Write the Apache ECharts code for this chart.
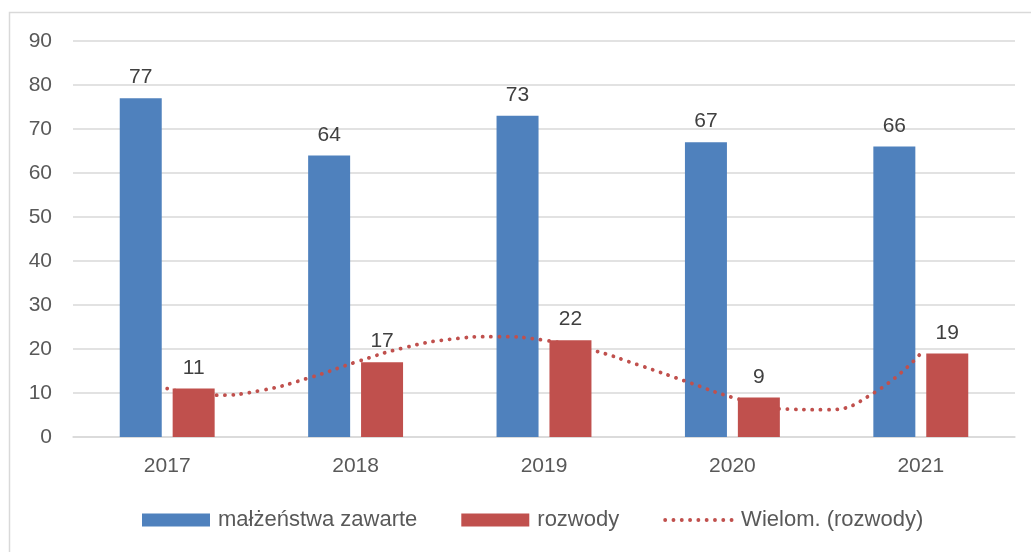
<!DOCTYPE html>
<html>
<head>
<meta charset="utf-8">
<script src="https://cdn.jsdelivr.net/npm/echarts@6/dist/echarts.min.js"></script>
<style>
  html, body { margin: 0; padding: 0; background: #fff; }
  #chart { width: 1031px; height: 552px; }
</style>
</head>
<body>
<div id="chart"></div>
<script>
// dane
const years = ['2017', '2018', '2019', '2020', '2021'];
const malzenstwa = [77, 64, 73, 67, 66];
const rozwody = [11, 17, 22, 9, 19];
// linia trendu (wielomianowa), x = indeks kategorii
const trendX = [0, 0.25, 0.5, 0.75, 1, 1.25, 1.5, 1.75, 2, 2.25, 2.5, 2.75, 3, 3.25, 3.5, 3.75, 4];
const trendY = [11, 9.5, 10.6, 13.4, 17, 20.2, 22.2, 22.8, 22, 19.8, 16.4, 12.7, 9, 6.4, 6.2, 10.0, 19];

const FONT = '"Liberation Sans", Arial, sans-serif';
const chart = echarts.init(document.getElementById('chart'));

const dotLine = { color: '#c0504d', width: 3.8, type: [0.1, 8.2], cap: 'round' };

const option = {
    animation: false,
    textStyle: { fontFamily: FONT },
    graphic: [{
        type: 'rect',
        shape: { x: 9.5, y: 12.5, width: 1040, height: 560 },
        style: { fill: 'none', stroke: '#d9d9d9', lineWidth: 1.5 },
        silent: true
    }],
    grid: { left: 73, right: 16, top: 41, bottom: 115, containLabel: false },
    legend: {
        bottom: 16,
        left: 137,
        itemWidth: 68,
        itemHeight: 13,
        itemGap: 44,
        textStyle: { fontSize: 22, color: '#595959', fontFamily: FONT, padding: [0, 0, 0, 3] },
        data: [
            { name: 'małżeństwa zawarte', icon: 'rect' },
            { name: 'rozwody', icon: 'rect' },
            {
                name: 'Wielom. (rozwody)',
                itemStyle: { color: 'rgba(0,0,0,0)', borderWidth: 0, opacity: 0 },
                lineStyle: dotLine
            }
        ]
    },
    xAxis: [
        {
            type: 'category',
            data: years,
            axisLine: { lineStyle: { color: '#d9d9d9', width: 1.5 } },
            axisTick: { show: false },
            axisLabel: { fontSize: 21, color: '#595959', margin: 19 }
        },
        {
            type: 'value',
            min: -0.5,
            max: 4.5,
            show: false
        }
    ],
    yAxis: {
        type: 'value',
        min: 0,
        max: 90,
        interval: 10,
        axisLine: { show: false },
        axisTick: { show: false },
        splitLine: { lineStyle: { color: '#d9d9d9', width: 1.5 } },
        axisLabel: { fontSize: 21, color: '#595959', margin: 21 }
    },
    series: [
        {
            name: 'małżeństwa zawarte',
            type: 'bar',
            xAxisIndex: 0,
            data: malzenstwa,
            barWidth: 42,
            barGap: '26%',
            z: 2,
            itemStyle: { color: '#4f81bd' },
            label: { show: true, position: 'top', distance: 10, fontSize: 21, color: '#404040' }
        },
        {
            name: 'rozwody',
            type: 'bar',
            xAxisIndex: 0,
            data: rozwody,
            barWidth: 42,
            z: 4,
            itemStyle: { color: '#c0504d' },
            label: { show: true, position: 'top', distance: 10, fontSize: 21, color: '#404040' }
        },
        {
            name: 'Wielom. (rozwody)',
            type: 'line',
            xAxisIndex: 1,
            data: trendX.map((x, i) => [x, trendY[i]]),
            smooth: true,
            symbol: 'none',
            z: 3,
            color: '#c0504d',
            lineStyle: dotLine
        }
    ]
};

chart.setOption(option);
</script>
</body>
</html>
